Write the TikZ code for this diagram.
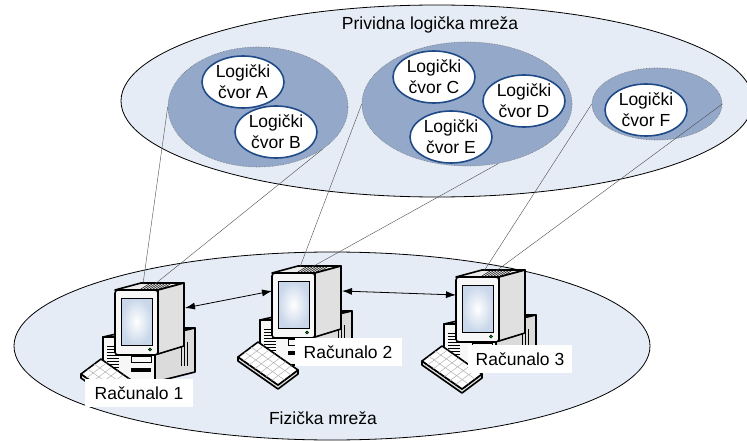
\documentclass[tikz,border=0pt]{standalone}
\usepackage{fontspec}
\setmainfont{Liberation Sans}
\usetikzlibrary{shapes.geometric, arrows.meta}

\definecolor{mrezaplava}{HTML}{E5ECF6}
\definecolor{grupaplava}{HTML}{94A9CA}
\definecolor{rubplava}{HTML}{1F4A87}
\definecolor{ekran}{HTML}{C9D7EA}

\tikzset{
    mreza/.style={ellipse, draw=black, line width=0.8pt, fill=mrezaplava, inner sep=0pt},
    grupa/.style={ellipse, draw=black!55, densely dotted, line width=0.6pt, fill=grupaplava, inner sep=0pt},
    cvor/.style={ellipse, draw=rubplava, line width=1.6pt, fill=white, inner sep=0pt,
        minimum width=82pt, minimum height=52pt, align=center},
    veza/.style={draw=black!70, line width=0.4pt},
    kabel/.style={{Latex[length=10pt,width=7pt]}-{Latex[length=10pt,width=7pt]}, line width=0.8pt},
    natpis/.style={fill=white, inner sep=0pt, minimum height=28pt},
    pc/.style={draw=black, line width=1.6pt, line join=round},
}

% racunalo: ime, polozaj gornjeg lijevog kuta monitora
\newcommand{\racunalo}[2]{
    \begin{scope}[shift={#2}]
        % kuciste
        \draw[pc, fill=black!8] (-12,47) -- (28,38) -- (80,38) -- (40,47) -- cycle;
        \draw[pc, fill=black!14] (40,47) -- (80,38) -- (80,82) -- (40,92) -- cycle;
        \draw[pc, fill=black!3] (-12,47) rectangle (40,92);
        \foreach \y in {56, 59,..., 86} {
            \draw[line width=0.6pt] (-8,\y) -- (4,\y);
        }
        \foreach \x in {66, 69, 72} {
            \draw[line width=0.6pt] (\x,52) -- (\x,76);
        }
        \draw[line width=0.6pt] (16,66) rectangle (36,72);
        \fill (16,78) rectangle (36,82);
        % monitor
        \draw[pc, fill=black!8] (0,0) -- (26,-7) -- (69,-7) -- (43,0) -- cycle;
        \draw[pc, fill=black!12] (43,0) -- (69,-7) -- (69,56) -- (43,64) -- cycle;
        \foreach \k in {0, 1,..., 7} {
            \draw[line width=0.5pt] (26+3*\k,-1) -- (34+3*\k,-6);
        }
        \draw[pc, fill=black!3, rounded corners=3pt] (0,0) rectangle (43,65);
        \shade[inner color=white, outer color=ekran, draw=black, line width=1pt] (6,8) rectangle (37,55);
        \draw[fill=green!60!black, line width=0.5pt] (35,59.5) circle (1.6);
        % tipkovnica
        \draw[pc, fill=black!12] (-34,84) -- (-34,88) -- (6,116) -- (26,101) -- (26,97) -- (6,112) -- cycle;
        \draw[pc, fill=white] (-34,84) -- (-14,69) -- (26,97) -- (6,112) -- cycle;
        \foreach \t in {0.14, 0.28,..., 0.9} {
            \draw[black!30, line width=0.5pt] ({-34+40*\t},{84+28*\t}) -- ({-14+40*\t},{69+28*\t});
        }
        \foreach \s in {0.33, 0.66} {
            \draw[black!30, line width=0.5pt] ({-34+20*\s},{84-15*\s}) -- ({6+20*\s},{112-15*\s});
        }
        \coordinate (#1-l) at (0,18);
        \coordinate (#1-r) at (70,18);
        \coordinate (#1-t1) at (28,-6);
        \coordinate (#1-t2) at (40,-6);
    \end{scope}
}

\begin{document}
\begin{tikzpicture}[x=1pt, y=-1pt, every node/.style={font=\fontsize{17.5}{21}\selectfont}]
    \useasboundingbox (0,0) rectangle (747,441);
    \clip (0,0) rectangle (747,441);

    % logicka mreza
    \node[mreza, minimum width=632pt, minimum height=192pt] (prividna) at (437,101) {};
    \node (prividna-txt) at (430,25) {Prividna logička mreža};

    \node[grupa, minimum width=180pt, minimum height=120pt] (ab) at (258,107) {};
    \node[grupa, minimum width=210pt, minimum height=124pt] (cde) at (467,104) {};
    \node[grupa, minimum width=130pt, minimum height=72pt] (f) at (657,104) {};

    \node[cvor] (a) at (243,82) {Logički\\čvor A};
    \node[cvor] (b) at (276,132) {Logički\\čvor B};
    \node[cvor] (c) at (434,77) {Logički\\čvor C};
    \node[cvor] (d) at (524,101) {Logički\\čvor D};
    \node[cvor] (e) at (451,137) {Logički\\čvor E};
    \node[cvor] (fn) at (646,110) {Logički\\čvor F};

    % fizicka mreza
    \node[mreza, minimum width=636pt, minimum height=188pt] (fizicka) at (332,346) {};
    \node (fizicka-txt) at (323,418) {Fizička mreža};

    \racunalo{pc1}{(115,290)}
    \racunalo{pc2}{(272,273)}
    \racunalo{pc3}{(456,277)}

    \draw[veza] (ab.west) -- (pc1-t1);
    \draw[veza] (ab.-33) -- (pc1-t2);
    \draw[veza] (cde.west) -- (pc2-t1);
    \draw[veza] (cde.-62) -- (pc2-t2);
    \draw[veza] (f.west) -- (pc3-t1);
    \draw[veza] (f.east) -- (pc3-t2);

    \draw[kabel] (pc1-r) -- (pc2-l);
    \draw[kabel] (pc2-r) -- (pc3-l);

    \node[natpis, minimum width=108pt] (r1) at (139,393) {Računalo 1};
    \node[natpis, minimum width=107pt] (r2) at (348,352) {Računalo 2};
    \node[natpis, minimum width=104pt] (r3) at (520,359) {Računalo 3};
\end{tikzpicture}
\end{document}
